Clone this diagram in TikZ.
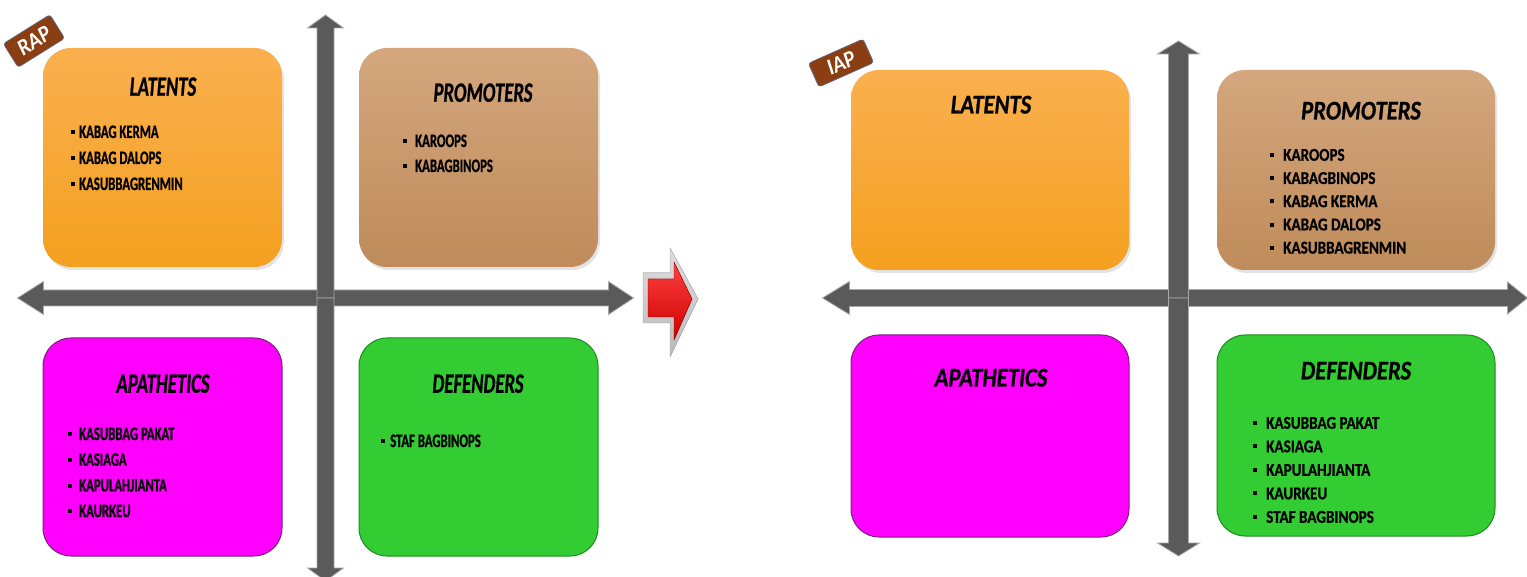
\documentclass[tikz,border=0pt]{standalone}
\usepackage{fontspec}
\setmainfont{Carlito}
\newfontfamily\lfam[FakeStretch=0.67, FakeBold=0.8]{Carlito}
\newfontfamily\rfam[FakeStretch=0.84, FakeBold=0.8]{Carlito}
\newfontfamily\tagfam[FakeStretch=0.9]{Carlito}
\usetikzlibrary{shadows}
\definecolor{orTop}{HTML}{FAB04F}
\definecolor{orBot}{HTML}{F4A01F}
\definecolor{tnTop}{HTML}{D4A77E}
\definecolor{tnBot}{HTML}{BF8B5A}
\definecolor{mag}{HTML}{FF00FF}
\definecolor{magB}{HTML}{7A1F7A}
\definecolor{grn}{HTML}{33CC33}
\definecolor{grnB}{HTML}{1F8A1F}
\definecolor{axfill}{HTML}{5A5A5A}
\definecolor{axline}{HTML}{A8A8A8}
\definecolor{tagbrown}{HTML}{8A3E12}
\definecolor{tagline}{HTML}{5A6E90}
\tikzset{
  qbox/.style={rounded corners=28pt, inner sep=0pt},
  orbox/.style={qbox, top color=orTop, bottom color=orBot, drop shadow={shadow xshift=2pt, shadow yshift=-3pt, opacity=0.22}},
  tnbox/.style={qbox, top color=tnTop, bottom color=tnBot, drop shadow={shadow xshift=2pt, shadow yshift=-3pt, opacity=0.22}},
  mgbox/.style={qbox, fill=mag, draw=magB, line width=1pt},
  gnbox/.style={qbox, fill=grn, draw=grnB, line width=1pt},
  ltitle/.style={inner sep=0pt, text height=17.5pt, text depth=0pt, font=\lfam\bfseries\itshape\fontsize{28}{30}\selectfont},
  rtitle/.style={inner sep=0pt, text height=17pt, text depth=0pt, font=\rfam\bfseries\itshape\fontsize{27}{29}\selectfont},
  litem/.style={inner sep=0pt, anchor=west, text height=12pt, text depth=0pt, font=\lfam\bfseries\fontsize{19}{21}\selectfont},
  ritem/.style={inner sep=0pt, anchor=west, text height=11.5pt, text depth=0pt, font=\rfam\bfseries\fontsize{18}{20}\selectfont},
  axis/.style={fill=axfill, draw=axline, line width=0.8pt, line join=miter},
  tag/.style={fill=tagbrown, draw=tagline, line width=0.6pt, rounded corners=3pt, text=white, inner sep=0pt,
    font=\tagfam\bfseries\itshape\fontsize{23}{25}\selectfont},
}
% name, x, y0, dy, gap, style, list
\newcommand\blist[7]{%
  \foreach \t [count=\i] in {#7}{%
    \node[#6] (#1\i) at (#2,{#3+(\i-1)*#4}) {\rule[3.8pt]{4pt}{4pt}\hspace{#5pt}\t};}}
% cx, cy, angle, length, shaft half width, head half width, head length
\newcommand\axarrow[7]{%
  \draw[axis, shift={(#1,#2)}, rotate=#3]
    (0,-#5) -- ({#4-#7},-#5) -- ({#4-#7},-#6) -- (#4,0) -- ({#4-#7},#6) -- ({#4-#7},#5) -- (0,#5) -- cycle;}
\begin{document}
\begin{tikzpicture}[x=1pt, y=-1pt]
\useasboundingbox (0,0) rectangle (1527,577);
\fill[white] (0,0) rectangle (1527,577);

% ---------- left diagram ----------
\node[orbox, minimum width=239pt, minimum height=219pt] (lLat) at (162.5,157.5) {};
\node[tnbox, minimum width=239pt, minimum height=219pt] (lPro) at (478.5,157.5) {};
\node[mgbox, minimum width=239pt, minimum height=218pt] (lApa) at (162.5,447) {};
\node[gnbox, minimum width=239pt, minimum height=218pt] (lDef) at (478.5,447) {};

\axarrow{325.5}{298}{0}{308}{8}{16.5}{25}
\axarrow{325.5}{298}{180}{308}{8}{16.5}{26}
\axarrow{325.5}{298}{90}{283}{8.5}{18}{13}
\axarrow{325.5}{298}{-90}{283}{8.5}{18}{13}

\node[ltitle] (lLatT) at (163,87) {LATENTS};
\node[ltitle] (lProT) at (483,93) {PROMOTERS};
\node[ltitle] (lApaT) at (163,384) {APATHETICS};
\node[ltitle] (lDefT) at (478,384) {DEFENDERS};

\blist{lLatI}{71}{132}{26}{4}{litem}{KABAG KERMA, KABAG DALOPS, KASUBBAGRENMIN}
\blist{lProI}{403}{141}{25}{8}{litem}{KAROOPS, KABAGBINOPS}
\blist{lApaI}{68}{434}{25.7}{7}{litem}{KASUBBAG PAKAT, KASIAGA, KAPULAHJIANTA, KAURKEU}
\blist{lDefI}{381}{441}{25}{5}{litem}{STAF BAGBINOPS}

\node[tag, rotate=32, minimum width=55pt, minimum height=28pt] (rap) at (34,41) {RAP};

% ---------- transition arrow ----------
\fill[top color=gray!25, bottom color=gray!55, draw=gray!60, line width=0.5pt]
  (643,273) -- (670,273) -- (670,248) -- (698,299) -- (670,357) -- (670,323) -- (643,323) -- cycle;
\fill[top color=red!75!white, bottom color=red!80!black, draw=red!60!black, line width=0.4pt]
  (648,279) -- (674,279) -- (674,262) -- (692,299) -- (674,340) -- (674,317) -- (648,317) -- cycle;

% ---------- right diagram ----------
\node[orbox, minimum width=278pt, minimum height=200pt] (rLat) at (990,170) {};
\node[tnbox, minimum width=278pt, minimum height=200pt] (rPro) at (1356,170) {};
\node[mgbox, minimum width=278pt, minimum height=202pt] (rApa) at (990,436) {};
\node[gnbox, minimum width=278pt, minimum height=201pt] (rDef) at (1356,435.5) {};

\axarrow{1178.5}{298}{0}{349}{8.5}{16}{20}
\axarrow{1178.5}{298}{180}{356}{8.5}{16.5}{27}
\axarrow{1178.5}{298}{90}{257}{10}{21}{13}
\axarrow{1178.5}{298}{-90}{258}{10}{21}{13}

\node[rtitle] (rLatT) at (991,105) {LATENTS};
\node[rtitle] (rProT) at (1361,111) {PROMOTERS};
\node[rtitle] (rApaT) at (991,378) {APATHETICS};
\node[rtitle] (rDefT) at (1356,371) {DEFENDERS};

\blist{rProI}{1270}{155}{23.2}{9}{ritem}{KAROOPS, KABAGBINOPS, KABAG KERMA, KABAG DALOPS, KASUBBAGRENMIN}
\blist{rDefI}{1253}{423}{23.5}{9}{ritem}{KASUBBAG PAKAT, KASIAGA, KAPULAHJIANTA, KAURKEU, STAF BAGBINOPS}

\node[tag, rotate=24, minimum width=60pt, minimum height=26pt] (iap) at (841,63) {IAP};
\end{tikzpicture}
\end{document}
